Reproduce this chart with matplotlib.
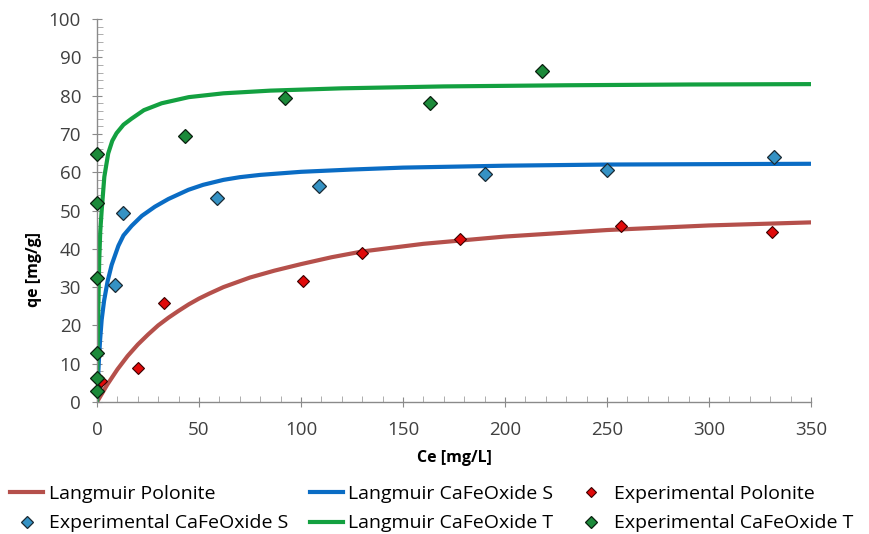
import matplotlib.pyplot as plt
from matplotlib.ticker import MultipleLocator

plt.rcParams['font.family'] = ['Open Sans', 'DejaVu Sans']

# Langmuir curves
ce_pol = [0, 5, 10, 15, 20, 25, 30, 35, 40, 45, 50, 55, 62, 75, 87, 100, 115, 130, 160, 200, 250, 300, 350]
qe_pol = [0, 4.5, 8.5, 12, 15, 17.6, 20, 22, 23.8, 25.5, 27, 28.3, 30, 32.5, 34.3, 36, 37.8, 39.3, 41.3, 43.2, 44.9, 46.1, 46.9]

ce_s = [0, 0.5, 1, 1.5, 2.3, 3.5, 5.2, 7.2, 10.5, 13, 17, 22, 28.4, 35, 44.8, 52, 62, 70, 80, 100, 125, 150, 200, 250, 300, 350]
qe_s = [0, 6, 11.5, 16, 21.5, 26.5, 31.5, 35.8, 40.8, 43.5, 46, 48.6, 51, 53, 55.4, 56.7, 58, 58.7, 59.3, 60.1, 60.7, 61.2, 61.7, 62.0, 62.1, 62.2]

ce_t = [0, 0.5, 1.1, 1.6, 2.3, 3.6, 5.5, 7.5, 9.6, 13, 17, 23, 31.7, 45, 62, 85, 120, 170, 230, 290, 350]
qe_t = [0, 20, 37, 44.5, 50, 58.8, 64.9, 68.2, 70.2, 72.4, 74, 76.2, 78, 79.6, 80.6, 81.3, 81.9, 82.4, 82.7, 82.9, 83.0]

# experimental points
exp_pol_x = [2, 20, 33, 101, 130, 178, 257, 331]
exp_pol_y = [5.6, 8.8, 25.8, 31.7, 39.0, 42.5, 46.0, 44.3]

exp_s_x = [8.8, 12.9, 59, 109, 190, 250, 332]
exp_s_y = [30.5, 49.4, 53.3, 56.5, 59.5, 60.7, 64.0]

exp_t_x = [0.1, 0.1, 0.1, 0.1, 0.1, 0.1, 43, 92, 163, 218]
exp_t_y = [3.0, 6.3, 12.8, 32.4, 52.0, 64.8, 69.5, 79.3, 78.0, 86.3]

fig = plt.figure(figsize=(8.69, 5.34), dpi=100)
ax = fig.add_axes([0.1116, 0.2472, 0.8217, 0.7172])

l_pol, = ax.plot(ce_pol, qe_pol, color='#b5504b', lw=3, label='Langmuir Polonite', zorder=2)
l_s, = ax.plot(ce_s, qe_s, color='#0a6cc4', lw=3, label='Langmuir CaFeOxide S', zorder=2)
l_t, = ax.plot(ce_t, qe_t, color='#13a040', lw=3, label='Langmuir CaFeOxide T', zorder=2)

m_pol, = ax.plot(exp_pol_x, exp_pol_y, 'D', color='#e00a0a', mec='#3a0000', mew=0.8, ms=6,
                 label='Experimental Polonite', zorder=3)
m_s, = ax.plot(exp_s_x, exp_s_y, 'D', color='#3592c4', mec='#1a2a33', mew=0.9, ms=7.5,
               label='Experimental CaFeOxide S', zorder=3)
m_t, = ax.plot(exp_t_x, exp_t_y, 'D', color='#1c8a3a', mec='#0a200f', mew=0.9, ms=7.5,
               label='Experimental CaFeOxide T', zorder=3, clip_on=False)

ax.set_xlim(0, 350)
ax.set_ylim(0, 100)
ax.xaxis.set_major_locator(MultipleLocator(50))
ax.xaxis.set_minor_locator(MultipleLocator(10))
ax.yaxis.set_major_locator(MultipleLocator(10))
ax.yaxis.set_minor_locator(MultipleLocator(2))

for side in ['top', 'right']:
    ax.spines[side].set_visible(False)
for side in ['left', 'bottom']:
    ax.spines[side].set_color('#8a8a8a')
    ax.spines[side].set_linewidth(1.0)

ax.tick_params(which='major', direction='inout', length=7, color='#8a8a8a',
               labelsize=13.5, labelcolor='#404040')
ax.tick_params(axis='x', which='major', pad=10)
ax.tick_params(axis='y', which='major', pad=8)
ax.tick_params(which='minor', direction='in', length=4, color='#a0a0a0')

ax.set_xlabel('Ce [mg/L]', fontsize=11.5, fontweight='bold')
ax.set_ylabel('qe [mg/g]', fontsize=11.5, fontweight='bold')
ax.xaxis.set_label_coords(0.5, -0.125)
ax.yaxis.set_label_coords(-0.077, 0.345)

handles = [l_pol, m_s, l_s, l_t, m_pol, m_t]
fig.legend(handles=handles, labels=[h.get_label() for h in handles], ncol=3,
           loc='center left', bbox_to_anchor=(10 / 869, 0.0478), frameon=False,
           fontsize=14, handlelength=1.7, handletextpad=0.3, columnspacing=1.1,
           labelspacing=0.6, borderpad=0, borderaxespad=0, markerscale=0.8)

fig.savefig('out.png', dpi=100, facecolor='white')
